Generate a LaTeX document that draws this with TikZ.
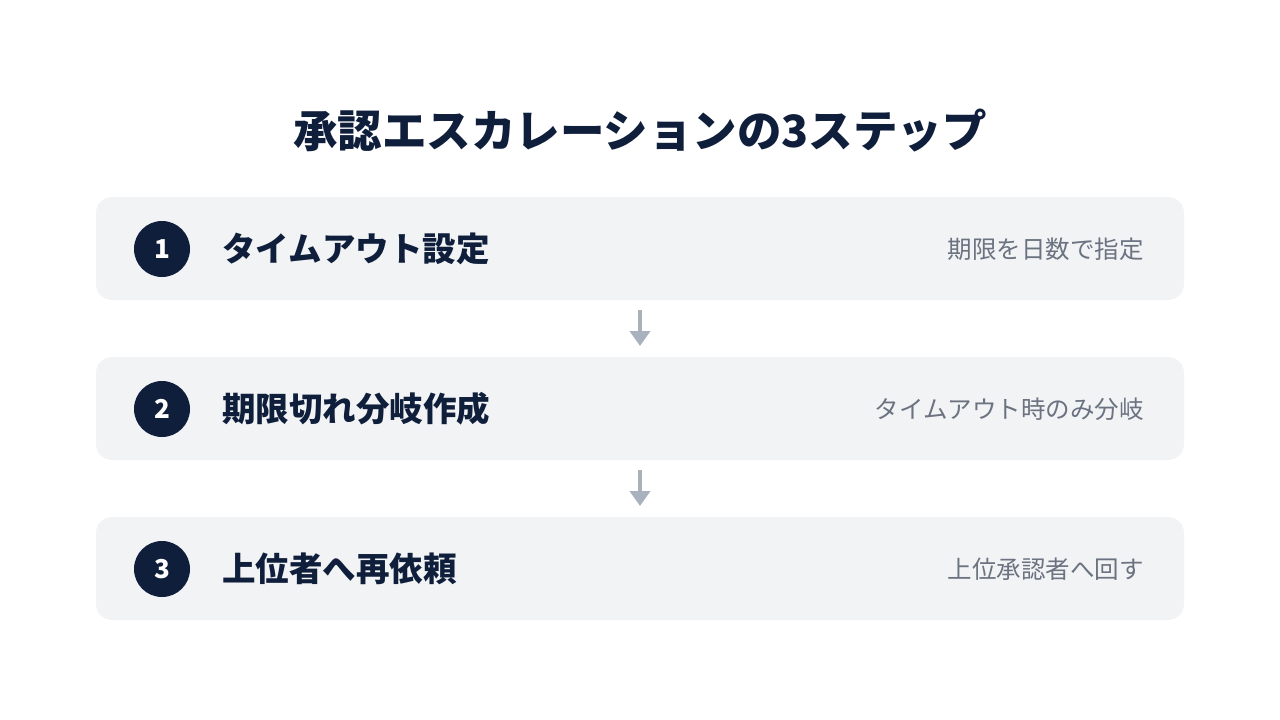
\documentclass[tikz,border=0pt]{standalone}
\usepackage{fontspec}
\setmainfont{Noto Sans CJK JP}[BoldFont={Noto Sans CJK JP Black}]
\definecolor{navy}{HTML}{0F1E3A}
\definecolor{boxfill}{HTML}{F1F3F5}
\definecolor{subgray}{HTML}{6B7280}
\definecolor{arrowgray}{HTML}{A9B1BD}
\usetikzlibrary{arrows.meta}
\tikzset{
  stepbox/.style={fill=boxfill, rounded corners=16pt, minimum width=1088pt, minimum height=103pt, inner sep=0pt},
  numcirc/.style={circle, fill=navy, minimum size=56pt, inner sep=0pt, text=white, font=\fontsize{26pt}{26pt}\selectfont\bfseries},
  steptitle/.style={anchor=west, inner sep=0pt, text=navy, font=\fontsize{33.5pt}{33.5pt}\selectfont\bfseries},
  stepnote/.style={anchor=east, inner sep=0pt, text=subgray, font=\fontsize{24.5pt}{24.5pt}\selectfont},
  flowarrow/.style={draw=arrowgray, line width=4pt, -{Triangle[width=20pt,length=15pt]}}
}
\begin{document}
\begin{tikzpicture}[x=1pt,y=-1pt]
\useasboundingbox (0,0) rectangle (1280,720);
\node[inner sep=0pt, text=navy, font=\fontsize{44.5pt}{44.5pt}\selectfont\bfseries] (title) at (640,131) {承認エスカレーションの3ステップ};

\node[stepbox] (b1) at (640,248.5) {};
\node[stepbox] (b2) at (640,408.5) {};
\node[stepbox] (b3) at (640,568.5) {};

\node[numcirc] (c1) at (162,249) {1};
\node[numcirc] (c2) at (162,409) {2};
\node[numcirc] (c3) at (162,569) {3};

\node[steptitle] (t1) at (222,249) {タイムアウト設定};
\node[steptitle] (t2) at (222,409) {期限切れ分岐作成};
\node[steptitle] (t3) at (222,569) {上位者へ再依頼};

\node[stepnote] (n1) at (1144,249) {期限を日数で指定};
\node[stepnote] (n2) at (1144,409) {タイムアウト時のみ分岐};
\node[stepnote] (n3) at (1144,569) {上位承認者へ回す};

\coordinate (a1s) at (640,310);
\coordinate (a1e) at (640,346);
\coordinate (a2s) at (640,470);
\coordinate (a2e) at (640,506);
\draw[flowarrow] (a1s) -- (a1e);
\draw[flowarrow] (a2s) -- (a2e);
\end{tikzpicture}
\end{document}
